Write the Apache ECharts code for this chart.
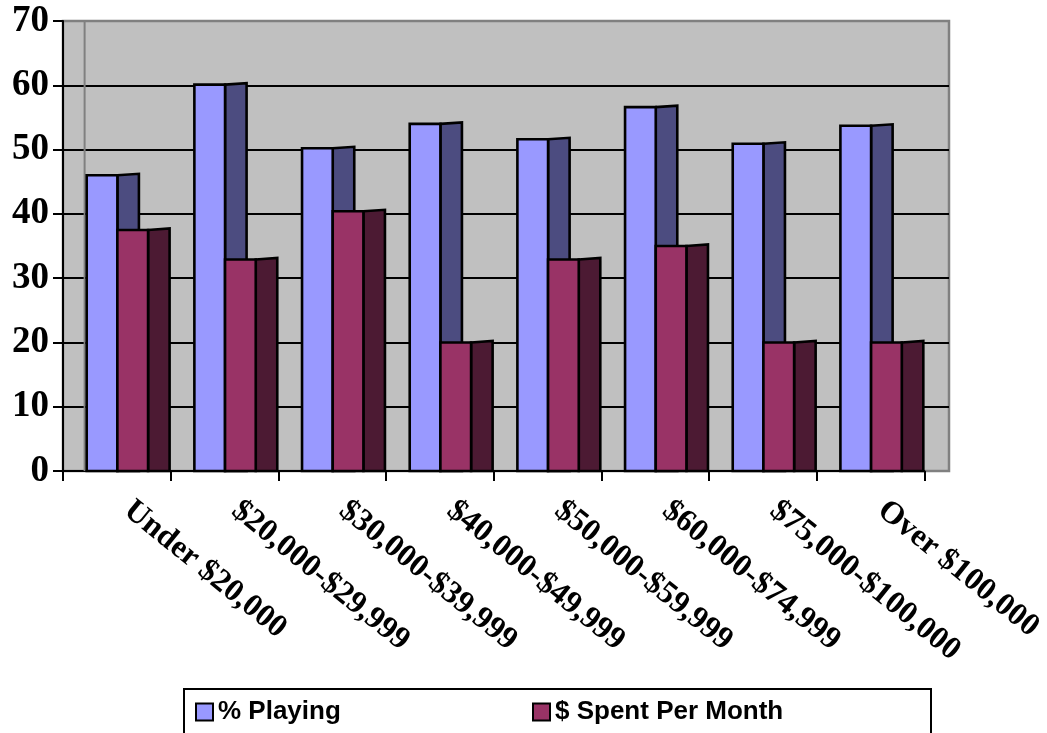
<!DOCTYPE html>
<html>
<head>
<meta charset="utf-8">
<title>Playing and Spending by Household Income</title>
<script src="https://cdn.jsdelivr.net/npm/echarts@6/dist/echarts.min.js"></script>
<style>
  html, body { margin: 0; padding: 0; background: #ffffff; }
  #chart { width: 1047px; height: 733px; }
</style>
</head>
<body>
<div id="chart"></div>
<script>
// Income brackets along the category axis
const CATEGORIES = [
  'Under $20,000', '$20,000-$29,999', '$30,000-$39,999', '$40,000-$49,999',
  '$50,000-$59,999', '$60,000-$74,999', '$75,000-$100,000', 'Over $100,000'
];
const SERIES_NAMES = ['% Playing', '$ Spent Per Month'];
const PLAYING = [46, 60.1, 50.2, 54, 51.6, 56.6, 50.9, 53.7];
const SPENT = [37.5, 32.9, 40.4, 20, 32.9, 35, 20, 20];
const Y_TICKS = { min: 0, max: 70, step: 10 };

// Pseudo-3D bar geometry, as fractions of one category band
const OFFSET = 0.22;   // gap before the first bar's front face
const FRONT = 0.285;   // front face width
const SIDE = 0.2;      // depth (side face width)
const RISE = 1.5;      // upward skew of the side face top, px
const DEPTH = SIDE;    // wall depth in category units

const FRONT_COLORS = ['#9999ff', '#993366'];
const SIDE_COLORS = ['#4c4c80', '#4c1a33'];

function barRenderer(slot) {
  return function (params, api) {
    const idx = api.value(0);
    const val = api.value(1);
    const band = api.size([1, 0])[0];
    const centre = api.coord([idx, 0]);
    const top = api.coord([idx, val])[1];
    const base = centre[1];
    const start = centre[0] - band / 2;
    const x0 = start + band * (OFFSET + slot * FRONT);
    const x1 = x0 + band * FRONT;
    const x2 = x1 + band * SIDE;
    const stroke = { stroke: '#000', lineWidth: 2.6, lineJoin: 'miter' };
    return {
      type: 'group',
      children: [
        {
          type: 'polygon',
          shape: { points: [[x1, top], [x2, top - RISE], [x2, base], [x1, base]] },
          style: Object.assign({ fill: SIDE_COLORS[slot] }, stroke)
        },
        {
          type: 'rect',
          shape: { x: x0, y: top, width: x1 - x0, height: base - top },
          style: Object.assign({ fill: FRONT_COLORS[slot] }, stroke)
        }
      ]
    };
  };
}

const serifLabel = {
  fontFamily: '"Liberation Serif", "Times New Roman", serif',
  fontWeight: 'bold',
  color: '#000'
};

const legendText = {
  fontFamily: '"Liberation Sans", Arial, sans-serif',
  fontWeight: 'bold',
  fontSize: 26,
  color: '#000',
  padding: [0, 0, 0, 0]
};

const chart = echarts.init(document.getElementById('chart'), null, { renderer: 'canvas' });

chart.setOption({
  backgroundColor: '#ffffff',
  animation: false,
  graphic: [
    {
      type: 'rect',
      left: 183, top: 688,
      shape: { width: 747, height: 48 },
      style: { fill: '#fff', stroke: '#000', lineWidth: 2 },
      z: -1
    }
  ],
  legend: [
    {
      data: [SERIES_NAMES[0]],
      left: 190, top: 694,
      itemWidth: 17, itemHeight: 17, itemGap: 0,
      icon: 'rect',
      itemStyle: { borderColor: '#000', borderWidth: 2 },
      textStyle: legendText
    },
    {
      data: [SERIES_NAMES[1]],
      left: 527, top: 694,
      itemWidth: 17, itemHeight: 17, itemGap: 0,
      icon: 'rect',
      itemStyle: { borderColor: '#000', borderWidth: 2 },
      textStyle: legendText
    }
  ],
  grid: [
    // plotting grid holding the axes and bars
    { left: 63, right: 120, top: 21, bottom: 262 },
    // back wall, one bar-depth wider than the plotting grid
    { left: 63, right: 98, top: 21, bottom: 262, show: true, backgroundColor: '#c0c0c0', borderColor: '#808080', borderWidth: 2.5, z: -2 }
  ],
  xAxis: [
    {
      gridIndex: 0,
      type: 'category',
      data: CATEGORIES,
      axisLine: { lineStyle: { color: '#000', width: 2 } },
      axisTick: { show: true, length: 10, lineStyle: { color: '#000', width: 2 } },
      axisLabel: Object.assign({ interval: 0, rotate: -39, margin: 27, fontSize: 32, padding: [0, 0, 0, 14] }, serifLabel),
      splitLine: { show: false }
    },
    {
      gridIndex: 1,
      type: 'value',
      min: 0, max: CATEGORIES.length + DEPTH,
      show: false
    }
  ],
  yAxis: [
    {
      gridIndex: 0,
      type: 'value',
      min: Y_TICKS.min, max: Y_TICKS.max, interval: Y_TICKS.step,
      axisLine: { show: true, lineStyle: { color: '#000', width: 2 } },
      axisTick: { show: true, length: 10, lineStyle: { color: '#000', width: 2 } },
      axisLabel: Object.assign({ margin: 14, fontSize: 37 }, serifLabel),
      splitLine: { show: false }
    },
    {
      gridIndex: 1,
      type: 'value',
      min: Y_TICKS.min, max: Y_TICKS.max, interval: Y_TICKS.step,
      axisLine: { show: false },
      axisTick: { show: false },
      axisLabel: { show: false },
      splitLine: { show: true, showMinLine: false, showMaxLine: false, lineStyle: { color: '#000', width: 2 } }
    }
  ],
  series: [
    {
      // corner between side wall and back wall
      type: 'line',
      xAxisIndex: 1, yAxisIndex: 1,
      data: [[DEPTH, Y_TICKS.min], [DEPTH, Y_TICKS.max]],
      symbol: 'none', silent: true,
      lineStyle: { color: '#808080', width: 2 },
      z: 1
    },
    {
      name: SERIES_NAMES[0],
      type: 'custom',
      xAxisIndex: 0, yAxisIndex: 0,
      itemStyle: { color: FRONT_COLORS[0] },
      encode: { x: 0, y: 1 },
      data: PLAYING.map((v, i) => [i, v]),
      renderItem: barRenderer(0),
      z: 3
    },
    {
      name: SERIES_NAMES[1],
      type: 'custom',
      xAxisIndex: 0, yAxisIndex: 0,
      itemStyle: { color: FRONT_COLORS[1] },
      encode: { x: 0, y: 1 },
      data: SPENT.map((v, i) => [i, v]),
      renderItem: barRenderer(1),
      z: 4
    }
  ]
});
</script>
</body>
</html>
